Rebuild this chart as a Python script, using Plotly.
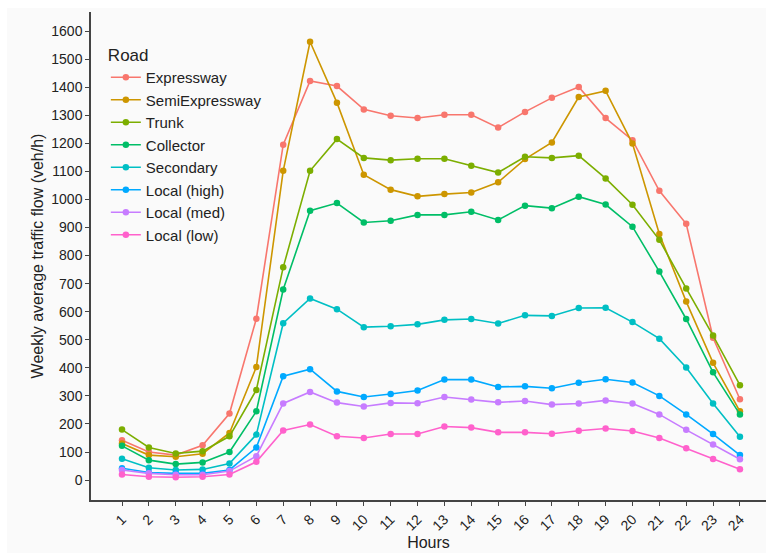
import plotly.graph_objects as go

hours = list(range(1, 25))
hour_labels = [str(h) for h in hours]
y_ticks = list(range(0, 1700, 100))

road_names = ["Expressway", "SemiExpressway", "Trunk", "Collector",
              "Secondary", "Local (high)", "Local (med)", "Local (low)"]
road_colors = ["#F8766D", "#CD9600", "#7CAE00", "#00BE67",
               "#00BFC4", "#00A9FF", "#C77CFF", "#FF61CC"]

expressway = [142, 100, 89, 124, 237, 575, 1195, 1422, 1404, 1321, 1298, 1290,
              1302, 1302, 1256, 1312, 1362, 1401, 1290, 1211, 1031, 913, 507, 288]
semi_expressway = [130, 89, 83, 94, 168, 403, 1102, 1562, 1345, 1088, 1035, 1011,
                   1019, 1025, 1061, 1144, 1203, 1365, 1387, 1199, 877, 636, 418, 245]
trunk = [180, 116, 95, 103, 156, 321, 758, 1102, 1215, 1148, 1140, 1145,
         1145, 1120, 1096, 1152, 1148, 1156, 1075, 981, 856, 683, 515, 338]
collector = [122, 71, 57, 63, 100, 245, 679, 960, 987, 918, 924, 945,
             945, 956, 927, 978, 969, 1010, 982, 903, 743, 574, 384, 234]
secondary = [76, 44, 36, 38, 59, 162, 559, 647, 609, 545, 548, 555,
             571, 574, 558, 587, 585, 613, 614, 563, 504, 401, 273, 154]
local_high = [42, 27, 24, 24, 36, 116, 370, 395, 316, 296, 307, 319,
              358, 358, 332, 334, 327, 347, 359, 348, 300, 234, 164, 89]
local_med = [36, 24, 19, 19, 32, 85, 273, 314, 276, 262, 275, 274,
             296, 287, 277, 282, 269, 273, 284, 273, 234, 179, 127, 74]
local_low = [20, 12, 10, 12, 20, 65, 177, 198, 156, 150, 164, 164,
             191, 187, 170, 170, 165, 176, 184, 175, 150, 113, 75, 39]

series = [expressway, semi_expressway, trunk, collector,
          secondary, local_high, local_med, local_low]

W, H = 766, 553
L, R, T, B = 91, 0, 12, 53
pw, ph = W - L - R, H - T - B

fig = go.Figure()
for name, color, vals in zip(road_names, road_colors, series):
    fig.add_trace(go.Scatter(
        x=hours, y=vals, name=name, mode="lines+markers",
        line=dict(color=color, width=1.6),
        marker=dict(color=color, size=6.5),
    ))

bg = "#fafafa"
fig.add_shape(type="rect", xref="paper", yref="paper", layer="below",
              x0=(7 - L) / pw, x1=(W - L) / pw,
              y0=-(B) / ph, y1=1 + (T - 8) / ph,
              fillcolor=bg, line=dict(width=0))

fig.update_layout(
    width=W, height=H,
    margin=dict(l=L, r=R, t=T, b=B),
    paper_bgcolor="white",
    plot_bgcolor=bg,
    font=dict(family="Liberation Sans, Arial, sans-serif", color="#222"),
    showlegend=True,
    legend=dict(
        title=dict(text="Road", font=dict(size=17, color="#222")),
        x=0.022, y=0.945, xanchor="left", yanchor="top",
        bgcolor="rgba(0,0,0,0)", font=dict(size=15, color="#222"),
        itemwidth=30, tracegroupgap=0,
    ),
    xaxis=dict(
        range=[-0.154, 24.97], tickmode="array", tickvals=hours, ticktext=hour_labels,
        tickangle=-45, showgrid=False, zeroline=False,
        showline=True, linecolor="#444", linewidth=1.5,
        ticks="outside", ticklen=4, tickcolor="#444",
        tickfont=dict(size=14, color="#222"),
        title=dict(text="Hours", font=dict(size=16, color="#222"), standoff=4),
    ),
    yaxis=dict(
        range=[-71, 1668], tickmode="array", tickvals=y_ticks,
        showgrid=False, zeroline=False,
        showline=True, linecolor="#444", linewidth=1.5,
        ticks="outside", ticklen=4, tickcolor="#444",
        tickfont=dict(size=14, color="#222"),
        title=dict(text="Weekly average traffic flow (veh/h)",
                   font=dict(size=16, color="#222"), standoff=4),
    ),
)

fig.write_html("out.html")
